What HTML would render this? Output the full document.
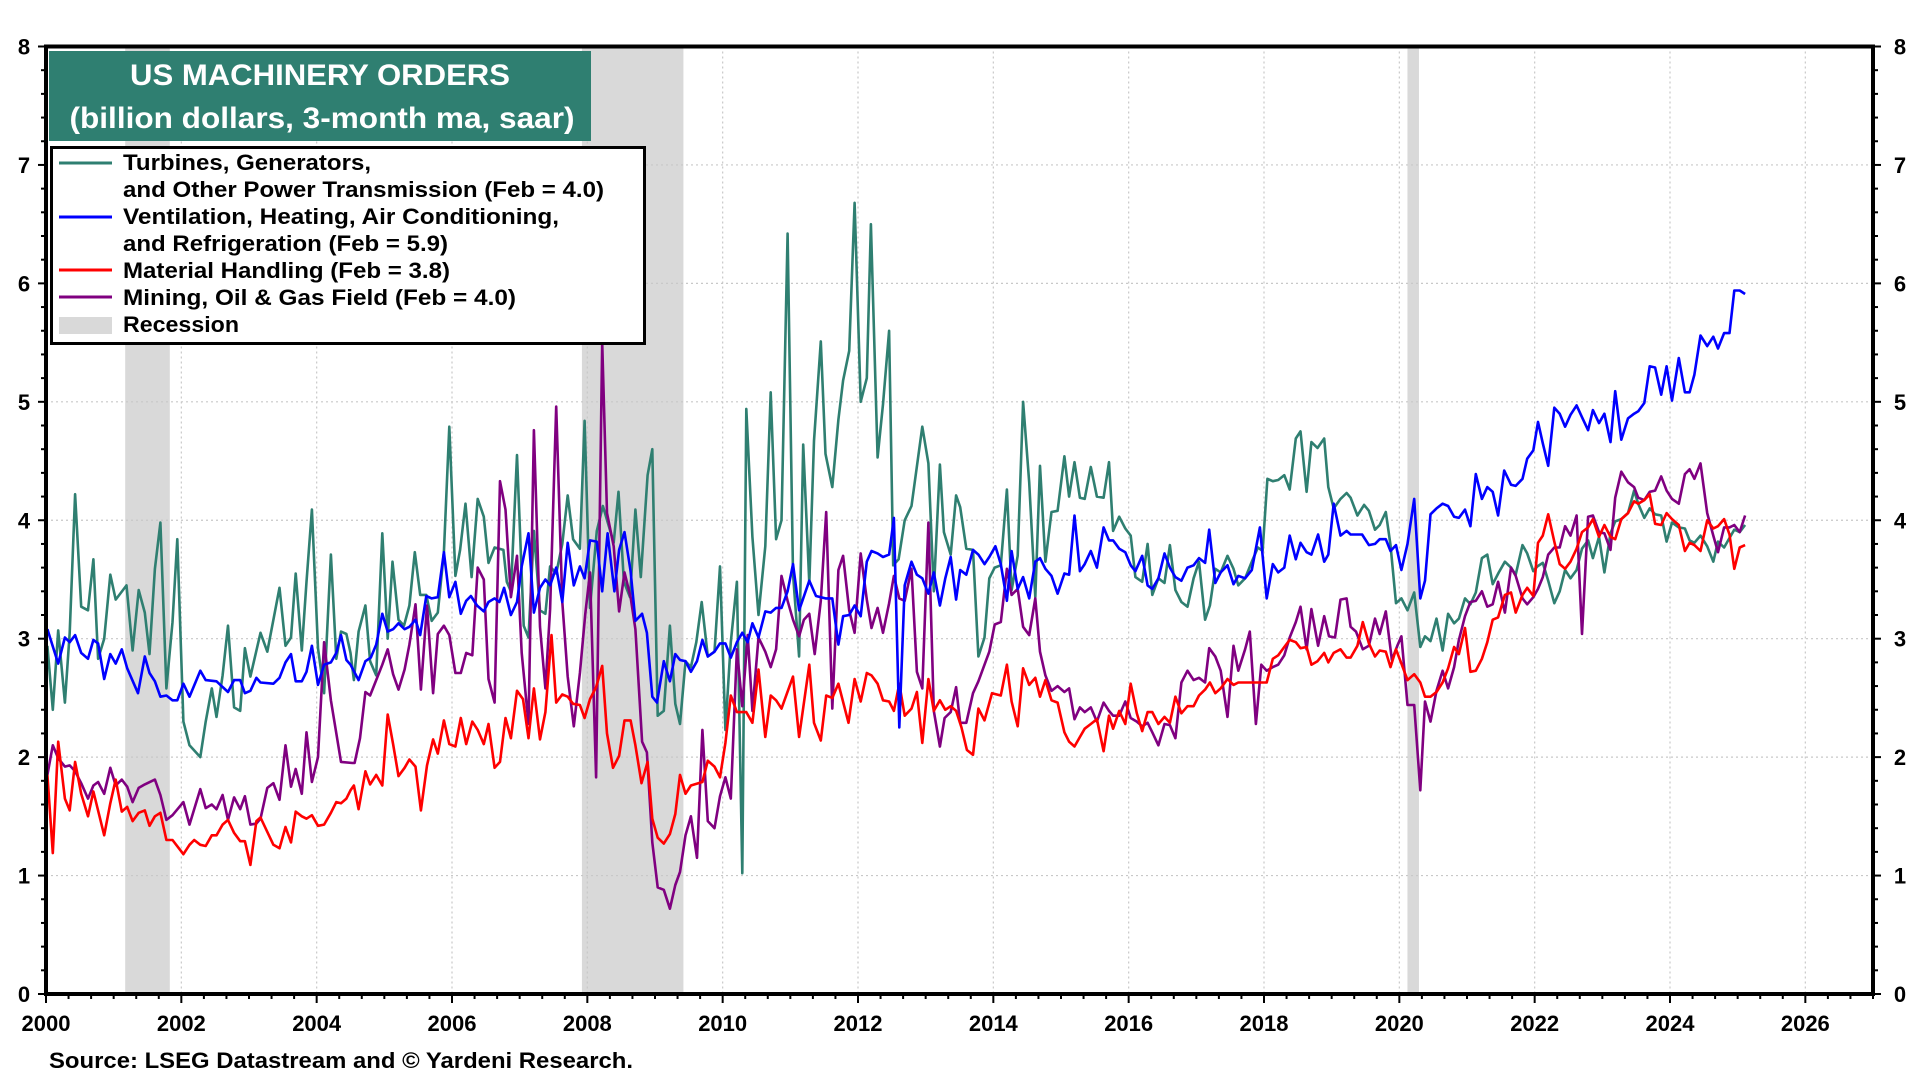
<!DOCTYPE html>
<html><head><meta charset="utf-8"><title>US Machinery Orders</title>
<style>
html,body{margin:0;padding:0;background:#fff;}
svg{display:block;font-family:"Liberation Sans",Arial,sans-serif;}
</style></head>
<body>
<svg id="chart" width="1920" height="1081" viewBox="0 0 1920 1081">
<g id="rec"></g>
<g id="grid"></g>
<g id="series"></g>
<g id="axes"></g>
<g>
<rect x="49" y="51" width="542" height="90" fill="#2f7f71"/>
<text x="320" y="85" text-anchor="middle" fill="#fff" font-weight="bold" font-size="30" textLength="380" lengthAdjust="spacingAndGlyphs">US MACHINERY ORDERS</text>
<text x="322" y="128" text-anchor="middle" fill="#fff" font-weight="bold" font-size="30" textLength="505" lengthAdjust="spacingAndGlyphs">(billion dollars, 3-month ma, saar)</text>
</g>
<g>
<rect x="51.5" y="147.5" width="593" height="196" fill="#fff" stroke="#000" stroke-width="3"/>
<g><line x1="59" y1="163" x2="112" y2="163" stroke="#2f7f71" stroke-width="3"/>
<text x="123" y="170" font-size="22" font-weight="bold" textLength="248" lengthAdjust="spacingAndGlyphs">Turbines, Generators,</text>
<text x="123" y="197" font-size="22" font-weight="bold" textLength="481" lengthAdjust="spacingAndGlyphs">and Other Power Transmission (Feb = 4.0)</text></g>
<g><line x1="59" y1="217" x2="112" y2="217" stroke="#0000ff" stroke-width="3"/>
<text x="123" y="224" font-size="22" font-weight="bold" textLength="436" lengthAdjust="spacingAndGlyphs">Ventilation, Heating, Air Conditioning,</text>
<text x="123" y="251" font-size="22" font-weight="bold" textLength="325" lengthAdjust="spacingAndGlyphs">and Refrigeration (Feb = 5.9)</text></g>
<g><line x1="59" y1="270" x2="112" y2="270" stroke="#ff0000" stroke-width="3"/>
<text x="123" y="278" font-size="22" font-weight="bold" textLength="327" lengthAdjust="spacingAndGlyphs">Material Handling (Feb = 3.8)</text></g>
<g><line x1="59" y1="297" x2="112" y2="297" stroke="#800080" stroke-width="3"/>
<text x="123" y="305" font-size="22" font-weight="bold" textLength="393" lengthAdjust="spacingAndGlyphs">Mining, Oil &amp; Gas Field  (Feb = 4.0)</text></g>
<g><rect x="59" y="317" width="53" height="17" fill="#d9d9d9"/>
<text x="123" y="332" font-size="22" font-weight="bold" textLength="116" lengthAdjust="spacingAndGlyphs">Recession</text></g>
</g>
<text x="49" y="1068" font-size="22" font-weight="bold" textLength="584" lengthAdjust="spacingAndGlyphs">Source: LSEG Datastream and © Yardeni Research.</text>
</svg>
<script>
const recStarts=[2001.17,2007.92,2020.12];
const recEnds=[2001.83,2009.42,2020.29];
const yTicks=[0,1,2,3,4,5,6,7,8];
const xTickLabels=[2000,2002,2004,2006,2008,2010,2012,2014,2016,2018,2020,2022,2024,2026];

const turbDates=[2000.02,2000.10,2000.18,2000.28,2000.35,2000.43,2000.52,2000.62,2000.70,2000.77,2000.86,2000.95,2001.03,2001.19,2001.28,2001.37,2001.46,2001.53,2001.61,2001.69,2001.78,2001.87,2001.94,2002.03,2002.12,2002.28,2002.36,2002.45,2002.52,2002.61,2002.69,2002.78,2002.87,2002.94,2003.02,2003.17,2003.27,2003.45,2003.54,2003.62,2003.69,2003.78,2003.85,2003.93,2004.02,2004.11,2004.21,2004.29,2004.36,2004.44,
2004.50,2004.55,2004.62,2004.72,2004.79,2004.88,2004.97,2005.05,2005.12,2005.21,2005.29,2005.37,2005.45,2005.53,2005.62,2005.70,2005.79,2005.88,2005.96,2006.05,2006.12,2006.20,2006.29,2006.38,2006.47,2006.54,2006.63,2006.76,2006.81,2006.87,2006.96,2007.06,2007.13,2007.21,2007.30,2007.38,2007.45,2007.54,2007.63,2007.71,2007.79,2007.89,2007.96,2008.04,2008.14,2008.23,2008.39,2008.46,2008.54,2008.63,2008.71,2008.79,2008.89,2008.96,2009.04,2009.13,2009.22,2009.30,2009.37,
2009.45,2009.53,2009.61,2009.69,2009.78,2009.88,2009.96,2010.04,2010.12,2010.21,2010.29,2010.35,2010.44,2010.53,2010.63,2010.71,2010.79,2010.87,2010.96,2011.04,2011.13,2011.19,2011.28,2011.35,2011.45,2011.52,2011.62,2011.71,2011.78,2011.87,2011.95,2012.04,2012.13,2012.19,2012.29,2012.37,2012.46,2012.52,2012.60,2012.69,2012.79,2012.95,2013.04,2013.12,2013.21,2013.27,2013.37,2013.45,2013.51,2013.60,2013.70,2013.78,2013.87,2013.94,2014.02,
2014.11,2014.20,2014.27,2014.36,2014.44,2014.53,2014.62,2014.69,2014.77,2014.86,2014.95,2015.05,2015.12,2015.20,2015.28,2015.35,2015.44,2015.53,2015.63,2015.71,2015.77,2015.86,2015.95,2016.03,2016.10,2016.20,2016.28,2016.35,2016.44,2016.53,2016.61,2016.69,2016.78,2016.87,2016.96,2017.04,2017.13,2017.20,2017.28,2017.36,2017.46,2017.55,2017.62,2017.72,2017.82,2017.91,2017.98,
2018.05,2018.13,2018.21,2018.30,2018.38,2018.47,2018.54,2018.63,2018.70,2018.79,2018.89,2018.95,2019.03,2019.13,2019.22,2019.28,2019.38,2019.48,2019.55,2019.64,2019.71,2019.80,2019.87,2019.95,2020.03,2020.12,2020.22,2020.31,2020.38,2020.46,2020.55,2020.64,2020.72,2020.81,2020.88,2020.97,2021.05,2021.13,2021.22,2021.30,2021.38,2021.47,2021.56,2021.65,2021.72,2021.82,2021.89,2021.98,
2022.04,2022.12,2022.20,2022.29,2022.37,2022.45,2022.53,2022.62,2022.70,2022.79,2022.86,2022.95,2023.03,2023.12,2023.19,2023.28,2023.38,2023.47,2023.53,2023.62,2023.70,2023.78,2023.87,2023.95,2024.03,2024.13,2024.22,2024.29,2024.36,2024.45,2024.55,2024.64,2024.71,2024.80,2024.88,2024.95,2025.03,2025.11];
const turbValues=[2.94,2.40,3.07,2.46,3.05,4.22,3.27,3.24,3.67,2.83,3.00,3.54,3.33,3.45,2.90,3.41,3.22,2.87,3.59,3.98,2.58,3.14,3.84,2.30,2.10,2.00,2.30,2.58,2.34,2.69,3.11,2.42,2.39,2.92,2.68,3.05,2.89,3.43,2.94,3.01,3.55,2.90,3.48,4.09,2.92,2.54,3.71,2.83,3.06,3.04,
2.88,2.65,3.06,3.28,2.81,2.69,3.89,3.00,3.65,3.16,3.11,3.28,3.73,3.37,3.37,3.15,3.22,3.73,4.79,3.53,3.75,4.14,3.52,4.18,4.03,3.64,3.77,3.75,3.48,3.40,4.55,3.11,3.01,3.91,3.24,3.21,3.61,3.55,3.80,4.21,3.84,3.76,4.84,3.26,3.91,4.12,3.81,4.24,3.48,3.35,4.09,3.52,4.38,4.60,2.35,2.39,3.11,2.45,2.28,
2.81,2.76,2.97,3.31,2.85,2.89,3.61,2.23,2.97,3.48,1.02,4.94,3.86,3.20,3.78,5.08,3.84,4.00,6.42,3.55,2.85,4.64,3.47,4.67,5.51,4.56,4.28,4.85,5.18,5.43,6.68,5.00,5.20,6.50,4.53,4.98,5.60,3.62,3.67,4.00,4.12,4.79,4.48,3.40,4.47,3.90,3.71,4.21,4.11,3.76,3.75,2.85,3.01,3.51,3.60,
3.62,4.26,3.41,3.70,5.00,4.32,3.35,4.46,3.65,4.07,4.08,4.54,4.20,4.49,4.19,4.18,4.45,4.20,4.19,4.49,3.91,4.03,3.93,3.87,3.52,3.48,3.80,3.37,3.51,3.47,3.79,3.41,3.31,3.27,3.51,3.65,3.16,3.28,3.59,3.56,3.70,3.59,3.45,3.51,3.65,3.77,3.74,
4.35,4.33,4.34,4.38,4.26,4.69,4.75,4.24,4.66,4.61,4.69,4.28,4.10,4.18,4.23,4.19,4.04,4.13,4.08,3.92,3.96,4.07,3.79,3.30,3.34,3.24,3.39,2.93,3.02,2.98,3.17,2.90,3.21,3.13,3.17,3.34,3.29,3.39,3.68,3.71,3.46,3.56,3.65,3.60,3.54,3.79,3.72,3.57,
3.61,3.64,3.49,3.30,3.40,3.58,3.51,3.58,3.76,3.83,3.68,3.86,3.56,3.89,3.99,4.01,4.06,4.25,4.14,4.02,4.10,4.05,4.04,3.82,3.98,3.94,3.93,3.83,3.81,3.87,3.78,3.65,3.82,3.77,3.85,3.92,3.90,3.96];

const hvacDates=[2000.02,2000.18,2000.28,2000.35,2000.43,2000.52,2000.62,2000.70,2000.77,2000.86,2000.95,2001.03,2001.12,2001.20,2001.36,2001.46,2001.53,2001.61,2001.69,2001.78,2001.87,2001.94,2002.03,2002.12,2002.28,2002.36,2002.52,2002.69,2002.78,2002.87,2002.94,2003.02,2003.11,2003.17,2003.36,2003.45,2003.54,2003.62,2003.69,2003.78,2003.85,2003.93,2004.02,2004.11,2004.21,2004.29,2004.36,2004.44,
2004.50,2004.62,2004.72,2004.80,2004.88,2004.97,2005.05,2005.13,2005.21,2005.30,2005.37,2005.46,2005.53,2005.62,2005.70,2005.79,2005.88,2005.96,2006.05,2006.13,2006.21,2006.28,2006.37,2006.47,2006.54,2006.63,2006.70,2006.77,2006.87,2006.96,2007.03,2007.13,2007.21,2007.30,2007.38,2007.45,2007.54,2007.63,2007.71,2007.80,2007.89,2007.96,2008.04,2008.14,2008.22,2008.30,2008.40,2008.47,2008.55,2008.64,2008.71,2008.81,2008.88,2008.96,2009.03,2009.13,2009.22,2009.30,2009.37,
2009.45,2009.53,2009.62,2009.70,2009.78,2009.88,2009.96,2010.04,2010.12,2010.21,2010.29,2010.37,2010.44,2010.53,2010.63,2010.71,2010.79,2010.87,2010.96,2011.04,2011.13,2011.28,2011.38,2011.52,2011.62,2011.71,2011.78,2011.87,2011.95,2012.04,2012.13,2012.20,2012.29,2012.37,2012.46,2012.53,2012.61,2012.69,2012.79,2012.87,2012.95,2013.04,2013.12,2013.21,2013.29,2013.37,2013.45,2013.51,2013.60,2013.70,2013.78,2013.87,2013.94,2014.03,
2014.11,2014.20,2014.27,2014.36,2014.44,2014.53,2014.62,2014.69,2014.77,2014.86,2014.95,2015.05,2015.12,2015.20,2015.28,2015.35,2015.44,2015.53,2015.63,2015.71,2015.77,2015.86,2015.95,2016.03,2016.10,2016.20,2016.28,2016.35,2016.44,2016.53,2016.61,2016.69,2016.78,2016.87,2016.96,2017.04,2017.13,2017.19,2017.28,2017.36,2017.46,2017.55,2017.62,2017.72,2017.82,2017.94,2018.04,
2018.13,2018.21,2018.30,2018.38,2018.47,2018.54,2018.63,2018.70,2018.80,2018.89,2018.95,2019.03,2019.13,2019.22,2019.28,2019.38,2019.45,2019.55,2019.64,2019.71,2019.80,2019.87,2019.95,2020.03,2020.12,2020.22,2020.31,2020.38,2020.46,2020.55,2020.64,2020.72,2020.81,2020.88,2020.97,2021.05,2021.13,2021.22,2021.30,2021.38,2021.46,2021.55,2021.65,2021.72,2021.82,2021.89,2021.98,2022.05,
2022.12,2022.20,2022.29,2022.37,2022.45,2022.53,2022.62,2022.70,2022.79,2022.86,2022.95,2023.03,2023.12,2023.19,2023.28,2023.38,2023.47,2023.53,2023.62,2023.70,2023.78,2023.87,2023.95,2024.03,2024.13,2024.22,2024.29,2024.36,2024.45,2024.55,2024.64,2024.71,2024.80,2024.88,2024.95,2025.03,2025.11];
const hvacValues=[3.08,2.79,3.01,2.97,3.03,2.88,2.83,2.99,2.96,2.66,2.87,2.79,2.91,2.75,2.54,2.85,2.71,2.64,2.51,2.52,2.48,2.48,2.62,2.51,2.73,2.65,2.64,2.55,2.65,2.65,2.54,2.56,2.67,2.63,2.62,2.67,2.80,2.87,2.64,2.64,2.72,2.94,2.61,2.78,2.80,2.88,3.03,2.82,
2.78,2.65,2.81,2.84,2.95,3.21,3.06,3.08,3.13,3.08,3.10,3.16,3.03,3.36,3.34,3.35,3.73,3.35,3.48,3.21,3.32,3.36,3.28,3.23,3.31,3.34,3.31,3.43,3.20,3.31,3.61,3.89,3.22,3.43,3.50,3.45,3.60,3.31,3.81,3.45,3.61,3.51,3.83,3.82,3.40,3.89,3.40,3.75,3.90,3.57,3.15,3.21,3.05,2.51,2.46,2.81,2.64,2.87,2.82,
2.81,2.72,2.81,2.99,2.85,2.89,2.96,2.96,2.84,2.97,3.05,2.97,3.13,3.01,3.23,3.22,3.26,3.26,3.40,3.63,3.24,3.49,3.36,3.34,3.34,2.95,3.19,3.20,3.28,3.19,3.65,3.74,3.72,3.69,3.71,4.02,2.25,3.45,3.65,3.54,3.51,3.38,3.56,3.28,3.51,3.69,3.33,3.58,3.54,3.75,3.71,3.63,3.69,3.78,
3.63,3.32,3.74,3.42,3.52,3.34,3.65,3.68,3.59,3.53,3.38,3.55,3.54,4.04,3.57,3.63,3.74,3.60,3.94,3.83,3.83,3.76,3.73,3.62,3.57,3.70,3.45,3.42,3.51,3.72,3.60,3.52,3.49,3.60,3.62,3.68,3.64,3.92,3.47,3.56,3.62,3.46,3.53,3.51,3.58,3.94,3.34,
3.63,3.56,3.60,3.87,3.67,3.81,3.73,3.71,3.88,3.65,3.71,4.14,3.87,3.91,3.88,3.88,3.88,3.79,3.80,3.84,3.84,3.74,3.79,3.58,3.80,4.18,3.34,3.49,4.05,4.10,4.14,4.12,4.03,4.02,4.09,3.95,4.39,4.18,4.28,4.24,4.04,4.42,4.30,4.29,4.35,4.52,4.59,4.83,
4.65,4.46,4.95,4.90,4.79,4.89,4.97,4.87,4.76,4.93,4.82,4.90,4.66,5.09,4.68,4.86,4.90,4.92,4.99,5.30,5.29,5.06,5.30,5.01,5.37,5.08,5.08,5.23,5.56,5.47,5.55,5.45,5.58,5.58,5.94,5.94,5.91];

const mhDates=[2000.02,2000.10,2000.18,2000.28,2000.35,2000.43,2000.52,2000.62,2000.70,2000.86,2000.95,2001.03,2001.12,2001.20,2001.28,2001.37,2001.46,2001.53,2001.61,2001.69,2001.78,2001.87,2002.03,2002.12,2002.19,2002.28,2002.36,2002.45,2002.52,2002.61,2002.69,2002.78,2002.87,2002.94,2003.02,2003.11,2003.17,2003.36,2003.45,2003.54,2003.62,2003.69,2003.78,2003.85,2003.93,2004.02,2004.11,2004.21,2004.29,2004.36,2004.44,
2004.50,2004.55,2004.62,2004.72,2004.79,2004.88,2004.97,2005.05,2005.13,2005.21,2005.30,2005.37,2005.46,2005.54,2005.63,2005.72,2005.79,2005.88,2005.96,2006.05,2006.13,2006.21,2006.30,2006.38,2006.47,2006.54,2006.63,2006.71,2006.79,2006.87,2006.96,2007.05,2007.13,2007.21,2007.30,2007.38,2007.47,2007.54,2007.63,2007.71,2007.79,2007.89,2007.96,2008.04,2008.13,2008.22,2008.29,2008.38,2008.47,2008.55,2008.64,2008.71,2008.80,2008.89,2008.96,2009.04,2009.13,2009.22,2009.30,2009.37,
2009.45,2009.53,2009.70,2009.78,2009.88,2009.96,2010.04,2010.12,2010.21,2010.35,2010.44,2010.53,2010.63,2010.71,2010.79,2010.87,2011.04,2011.13,2011.28,2011.35,2011.45,2011.53,2011.62,2011.71,2011.86,2011.95,2012.04,2012.13,2012.20,2012.29,2012.37,2012.46,2012.53,2012.61,2012.69,2012.79,2012.87,2012.95,2013.04,2013.12,2013.21,2013.29,2013.37,2013.45,2013.53,2013.61,2013.70,2013.78,2013.87,2013.98,
2014.11,2014.20,2014.27,2014.36,2014.44,2014.53,2014.62,2014.69,2014.77,2014.86,2014.95,2015.05,2015.12,2015.20,2015.28,2015.35,2015.44,2015.53,2015.63,2015.71,2015.77,2015.86,2015.95,2016.03,2016.12,2016.20,2016.28,2016.35,2016.44,2016.53,2016.61,2016.69,2016.78,2016.87,2016.96,2017.04,2017.13,2017.20,2017.28,2017.36,2017.46,2017.55,2017.62,2017.82,2018.04,
2018.13,2018.21,2018.30,2018.38,2018.47,2018.54,2018.63,2018.70,2018.79,2018.89,2018.95,2019.03,2019.13,2019.22,2019.28,2019.38,2019.46,2019.55,2019.64,2019.71,2019.80,2019.87,2019.95,2020.03,2020.12,2020.22,2020.31,2020.38,2020.46,2020.55,2020.64,2020.72,2020.81,2020.88,2020.97,2021.05,2021.13,2021.22,2021.30,2021.38,2021.46,2021.56,2021.65,2021.72,2021.82,2021.89,2021.98,2022.05,
2022.12,2022.20,2022.29,2022.37,2022.45,2022.53,2022.62,2022.70,2022.79,2022.86,2022.95,2023.03,2023.12,2023.19,2023.28,2023.38,2023.47,2023.53,2023.62,2023.70,2023.78,2023.87,2023.95,2024.03,2024.13,2024.22,2024.29,2024.36,2024.45,2024.55,2024.64,2024.71,2024.80,2024.88,2024.95,2025.03,2025.11];
const mhValues=[1.85,1.19,2.13,1.65,1.55,1.96,1.69,1.50,1.71,1.34,1.61,1.81,1.54,1.58,1.46,1.53,1.55,1.42,1.50,1.53,1.30,1.30,1.18,1.26,1.30,1.26,1.25,1.34,1.34,1.43,1.47,1.36,1.29,1.29,1.09,1.46,1.49,1.26,1.23,1.41,1.28,1.54,1.50,1.48,1.51,1.42,1.43,1.53,1.62,1.61,1.65,
1.72,1.76,1.56,1.88,1.77,1.85,1.76,2.36,2.11,1.84,1.91,1.98,1.92,1.55,1.93,2.15,2.03,2.31,2.11,2.09,2.33,2.11,2.30,2.23,2.11,2.28,1.91,1.96,2.33,2.16,2.56,2.49,2.16,2.58,2.15,2.38,3.03,2.46,2.53,2.51,2.45,2.44,2.33,2.49,2.59,2.77,2.20,1.91,2.01,2.31,2.31,2.10,1.78,1.96,1.48,1.32,1.27,1.35,1.52,1.85,
1.69,1.76,1.79,1.97,1.92,1.83,2.12,2.52,2.38,2.38,2.29,2.74,2.17,2.52,2.48,2.41,2.68,2.17,2.78,2.29,2.14,2.52,2.50,2.62,2.29,2.66,2.47,2.71,2.69,2.62,2.48,2.47,2.39,2.62,2.35,2.41,2.55,2.12,2.66,2.39,2.48,2.40,2.43,2.39,2.25,2.06,2.02,2.41,2.31,2.54,
2.52,2.78,2.47,2.26,2.75,2.61,2.67,2.51,2.65,2.48,2.46,2.21,2.13,2.09,2.17,2.24,2.28,2.32,2.05,2.35,2.24,2.39,2.28,2.62,2.37,2.22,2.38,2.38,2.28,2.34,2.29,2.51,2.37,2.43,2.43,2.52,2.57,2.63,2.54,2.58,2.66,2.61,2.63,2.63,2.63,
2.83,2.86,2.93,2.99,2.97,2.92,2.93,2.78,2.81,2.88,2.80,2.88,2.91,2.84,2.84,2.94,3.14,2.96,2.85,2.90,2.89,2.76,2.91,2.79,2.65,2.70,2.63,2.51,2.51,2.55,2.63,2.75,2.93,2.87,3.09,2.72,2.73,2.83,2.97,3.16,3.18,3.37,3.39,3.22,3.37,3.43,3.36,3.81,
3.87,4.05,3.82,3.63,3.59,3.65,3.76,3.90,3.94,4.01,3.86,3.96,3.86,3.84,4.01,4.06,4.16,4.14,4.17,4.22,3.97,3.96,4.06,4.01,3.96,3.74,3.81,3.79,3.74,4.00,3.93,3.95,4.01,3.88,3.59,3.77,3.79];

const minDates=[2000.02,2000.10,2000.18,2000.28,2000.35,2000.43,2000.52,2000.62,2000.70,2000.77,2000.86,2000.95,2001.03,2001.12,2001.20,2001.28,2001.37,2001.46,2001.61,2001.69,2001.78,2001.87,2002.03,2002.12,2002.28,2002.36,2002.45,2002.52,2002.61,2002.69,2002.78,2002.87,2002.94,2003.02,2003.11,2003.17,2003.27,2003.36,2003.45,2003.54,2003.62,2003.69,2003.78,2003.85,2003.93,2004.02,2004.11,2004.21,2004.36,2004.53,
2004.56,2004.64,2004.72,2004.79,2004.88,2004.97,2005.05,2005.13,2005.21,2005.30,2005.37,2005.46,2005.54,2005.63,2005.72,2005.79,2005.88,2005.96,2006.05,2006.13,2006.21,2006.30,2006.38,2006.47,2006.54,2006.63,2006.71,2006.79,2006.87,2006.96,2007.03,2007.13,2007.21,2007.30,2007.38,2007.45,2007.54,2007.63,2007.71,2007.80,2007.89,2007.97,2008.04,2008.13,2008.22,2008.29,2008.39,2008.47,2008.55,2008.64,2008.71,2008.81,2008.88,2008.96,2009.04,2009.13,2009.22,2009.30,2009.37,
2009.45,2009.53,2009.62,2009.70,2009.78,2009.88,2009.96,2010.04,2010.12,2010.21,2010.29,2010.37,2010.44,2010.53,2010.63,2010.71,2010.79,2010.87,2010.96,2011.04,2011.13,2011.20,2011.28,2011.36,2011.45,2011.53,2011.62,2011.71,2011.78,2011.87,2011.95,2012.04,2012.13,2012.20,2012.29,2012.37,2012.46,2012.53,2012.61,2012.69,2012.79,2012.87,2012.95,2013.04,2013.12,2013.21,2013.28,2013.37,2013.45,2013.51,2013.60,2013.70,2013.78,2013.87,2013.94,2014.02,
2014.11,2014.20,2014.27,2014.36,2014.44,2014.53,2014.62,2014.69,2014.77,2014.86,2014.95,2015.05,2015.12,2015.20,2015.28,2015.35,2015.44,2015.53,2015.63,2015.71,2015.77,2015.86,2015.95,2016.03,2016.12,2016.20,2016.28,2016.35,2016.44,2016.53,2016.61,2016.69,2016.78,2016.87,2016.96,2017.04,2017.13,2017.19,2017.28,2017.36,2017.46,2017.55,2017.62,2017.72,2017.79,2017.88,2017.96,2018.04,
2018.13,2018.21,2018.30,2018.38,2018.47,2018.54,2018.63,2018.70,2018.80,2018.89,2018.96,2019.05,2019.13,2019.22,2019.28,2019.36,2019.46,2019.55,2019.64,2019.71,2019.80,2019.89,2019.97,2020.03,2020.12,2020.22,2020.31,2020.38,2020.46,2020.55,2020.64,2020.72,2020.81,2020.88,2020.97,2021.05,2021.13,2021.22,2021.30,2021.38,2021.46,2021.56,2021.65,2021.72,2021.82,2021.89,2021.98,2022.05,
2022.12,2022.20,2022.29,2022.37,2022.45,2022.53,2022.62,2022.70,2022.79,2022.86,2022.95,2023.03,2023.12,2023.19,2023.28,2023.38,2023.47,2023.53,2023.62,2023.70,2023.78,2023.87,2023.95,2024.03,2024.13,2024.22,2024.29,2024.36,2024.45,2024.55,2024.64,2024.71,2024.80,2024.88,2024.95,2025.03,2025.11];
const minValues=[1.85,2.10,1.99,1.92,1.93,1.88,1.78,1.65,1.76,1.79,1.69,1.91,1.76,1.81,1.75,1.62,1.74,1.77,1.81,1.68,1.47,1.51,1.62,1.43,1.73,1.57,1.60,1.56,1.68,1.47,1.66,1.56,1.67,1.43,1.44,1.48,1.74,1.78,1.64,2.10,1.75,1.90,1.69,2.21,1.79,2.00,2.97,2.48,1.96,1.95,
1.95,2.16,2.55,2.52,2.65,2.78,2.91,2.70,2.57,2.74,2.95,3.29,2.57,3.28,2.54,3.04,3.11,3.03,2.71,2.71,2.88,2.86,3.60,3.50,2.66,2.46,4.33,4.09,3.35,3.70,2.88,2.28,4.76,3.10,2.58,3.25,4.96,3.31,2.68,2.26,2.71,3.21,3.56,1.83,5.50,4.06,3.78,3.23,3.56,3.35,3.08,2.13,2.04,1.28,0.90,0.88,0.72,0.92,1.03,
1.34,1.50,1.15,2.23,1.46,1.40,1.67,1.83,1.65,2.91,2.43,3.03,2.39,3.01,2.89,2.76,2.91,3.53,3.32,3.16,3.02,3.16,3.21,2.87,3.32,4.07,2.41,3.58,3.70,3.24,3.05,3.72,3.33,3.09,3.26,3.05,3.30,3.53,3.34,3.32,3.59,2.72,2.58,3.98,2.39,2.09,2.33,2.38,2.59,2.29,2.29,2.54,2.64,2.78,2.89,3.12,
3.14,3.59,3.37,3.42,3.10,3.03,3.34,2.89,2.69,2.56,2.60,2.55,2.58,2.32,2.42,2.38,2.42,2.30,2.46,2.39,2.35,2.35,2.47,2.33,2.30,2.26,2.29,2.21,2.10,2.28,2.27,2.16,2.63,2.73,2.65,2.67,2.63,2.92,2.85,2.73,2.34,2.94,2.73,2.91,3.06,2.28,2.78,2.73,
2.76,2.78,2.86,3.01,3.14,3.27,2.91,3.25,2.94,3.19,3.02,3.01,3.33,3.34,3.10,3.06,2.91,2.94,3.17,3.04,3.23,2.82,2.94,3.02,2.44,2.44,1.72,2.47,2.30,2.56,2.73,2.58,2.76,2.99,3.19,3.31,3.32,3.40,3.27,3.29,3.48,3.22,3.60,3.53,3.34,3.29,3.35,3.42,
3.52,3.71,3.77,3.77,3.95,3.87,4.04,3.04,4.03,4.04,3.90,3.89,3.75,4.19,4.41,4.32,4.28,4.19,4.17,4.24,4.25,4.37,4.25,4.18,4.14,4.39,4.43,4.35,4.48,4.06,3.87,3.73,3.94,3.94,3.96,3.90,4.04];

const NS='http://www.w3.org/2000/svg';
const X0=46,X1=1873,Y0=994,Y1=46.5,YR0=2000,YR1=2027,VMAX=8;
function xS(yr){return X0+(yr-YR0)/(YR1-YR0)*(X1-X0);}
function yS(v){return Y0-v/VMAX*(Y0-Y1);}
function mk(tag,attrs,parent){const e=document.createElementNS(NS,tag);for(const k in attrs)e.setAttribute(k,attrs[k]);parent.appendChild(e);return e;}

const recG=document.getElementById('rec');
recStarts.forEach((s,i)=>{
  const r=mk('rect',{x:xS(s),y:Y1,width:xS(recEnds[i])-xS(s),height:Y0-Y1,fill:'#d9d9d9'},recG);
  
  
});

const gridG=document.getElementById('grid');
yTicks.forEach(v=>{if(v>0&&v<VMAX){const l=mk('line',{x1:X0,x2:X1,y1:yS(v),y2:yS(v),stroke:'#c8c8c8','stroke-width':1.2,'stroke-dasharray':'2,3'},gridG);

}});
xTickLabels.forEach(yr=>{if(yr>YR0){const l=mk('line',{x1:xS(yr),x2:xS(yr),y1:Y1,y2:Y0,stroke:'#c8c8c8','stroke-width':1.2,'stroke-dasharray':'2,3'},gridG);

}});

const seriesG=document.getElementById('series');
function drawSeries(dates,vals,color,name){
  let d='';
  dates.forEach((t,i)=>{d+=(i?'L':'M')+xS(t).toFixed(1)+','+yS(vals[i]).toFixed(1);});
  const p=mk('path',{d:d,fill:'none',stroke:color,'stroke-width':2.6,'stroke-linejoin':'round'},seriesG);
  
  
}
drawSeries(turbDates,turbValues,'#2f7f71','turbines-line');
drawSeries(minDates,minValues,'#800080','mining-line');
drawSeries(mhDates,mhValues,'#ff0000','material-handling-line');
drawSeries(hvacDates,hvacValues,'#0000ff','hvac-line');

const axG=document.getElementById('axes');
const frame=mk('rect',{x:X0,y:Y1,width:X1-X0,height:Y0-Y1,fill:'none',stroke:'#000','stroke-width':4},axG);


for(let v=0;v<=VMAX+0.001;v+=0.2){
  const major=Math.abs(v-Math.round(v))<0.01;
  const len=major?8:5;
  mk('line',{x1:X0-len,x2:X0,y1:yS(v),y2:yS(v),stroke:'#000','stroke-width':2},axG);
  mk('line',{x1:X1,x2:X1+len,y1:yS(v),y2:yS(v),stroke:'#000','stroke-width':2},axG);
}
yTicks.forEach(v=>{
  const a=mk('text',{x:24,y:yS(v)+8,'text-anchor':'middle','font-size':22,'font-weight':'bold'},axG);
  a.textContent=v;
  
  
  const b=mk('text',{x:1900,y:yS(v)+8,'text-anchor':'middle','font-size':22,'font-weight':'bold'},axG);
  b.textContent=v;
  
  
});
for(let m=0;m<=(YR1-YR0)*3;m++){
  const yr=YR0+m/3;
  const major=(m%6===0);
  mk('line',{x1:xS(yr),x2:xS(yr),y1:Y0,y2:Y0+(major?9:5),stroke:'#000','stroke-width':2},axG);
}
xTickLabels.forEach(yr=>{
  const t=mk('text',{x:xS(yr),y:1031,'text-anchor':'middle','font-size':22,'font-weight':'bold'},axG);
  t.textContent=yr;
  
  
});
</script>
</body></html>
